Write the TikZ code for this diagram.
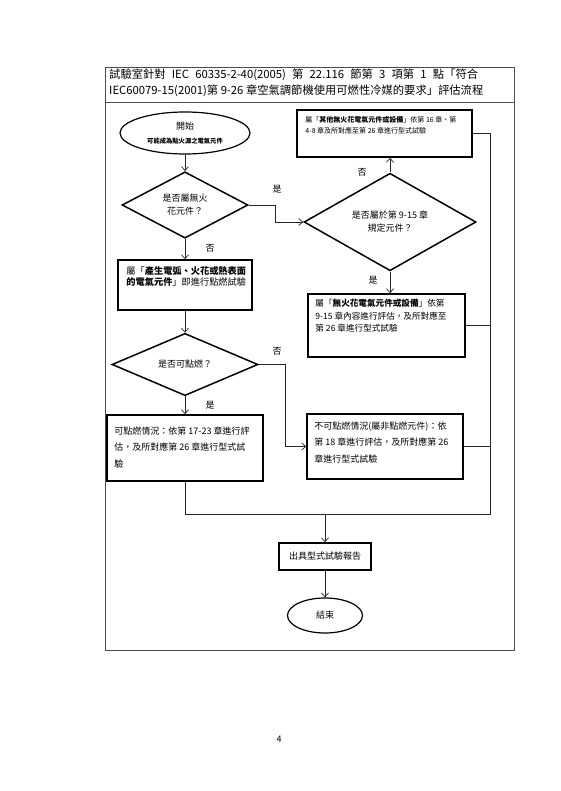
\documentclass[tikz,border=0pt]{standalone}
\usepackage{fontspec}
\setmainfont{Noto Sans CJK TC}
\usetikzlibrary{arrows.meta,shapes.geometric}

\begin{document}
\begin{tikzpicture}[x=1pt, y=-1pt,
  kuang/.style={draw=black, line width=1.5pt, inner sep=0pt},
  lingxing/.style={diamond, draw=black, line width=1.5pt, inner sep=0pt, align=center, font=\fontsize{9}{13}\selectfont},
  tuoyuan/.style={ellipse, draw=black, line width=1.2pt, inner sep=0pt, align=center},
  wenzi/.style={anchor=north west, inner sep=0pt, align=left},
  biaoqian/.style={inner sep=0pt, font=\fontsize{9}{11}\selectfont},
  xian/.style={draw=black!85, line width=0.7pt},
  jiantou/.style={xian, -{Straight Barb[length=4pt, width=7pt]}}]
  \useasboundingbox (0,0) rectangle (560,791);
  % frame and title
  \draw[black!70, line width=0.8pt] (105,67) rectangle (514,650);
  \draw[black!70, line width=0.8pt] (105,102) -- (514,102);
  \node[wenzi, font=\fontsize{11.3}{16}\selectfont] (biaoti) at (109,69)
    {{\spaceskip=6.2pt 試驗室針對 IEC 60335-2-40(2005) 第 22.116 節第 3 項第 1 點「符合}\\IEC60079-15(2001)第 9-26 章空氣調節機使用可燃性冷媒的要求」評估流程};
  % nodes
  \node[tuoyuan, minimum width=130, minimum height=42] (kaishi) at (185,133)
    {{\fontsize{9}{11}\selectfont 開始}\\[2pt]{\fontsize{6.3}{8}\selectfont\bfseries 可能成為點火源之電氣元件}};
  \node[lingxing, minimum width=126, minimum height=66] (pd1) at (185,205) {是否屬無火\\花元件？};
  \node[lingxing, minimum width=172, minimum height=86] (pd2) at (390,222) {是否屬於第 9-15 章\\規定元件？};
  \node[kuang, minimum width=175, minimum height=47] (qita) at (384.5,133.5) {};
  \node[wenzi, font=\fontsize{7}{11}\selectfont] at ([shift={(9,7)}]qita.north west)
    {屬「\textbf{其他無火花電氣元件或設備}」依第 16 章、第\\4-8 章及所對應至第 26 章進行型式試驗};
  \node[kuang, minimum width=157, minimum height=63] (wuhuo) at (386.5,325.5) {};
  \node[wenzi, font=\fontsize{8.6}{12.5}\selectfont] at ([shift={(8,6)}]wuhuo.north west)
    {屬「\textbf{無火花電氣元件或設備}」依第\\9-15 章內容進行評估，及所對應至\\第 26 章進行型式試驗};
  \node[kuang, minimum width=134, minimum height=50] (chansheng) at (185,285) {};
  \node[wenzi, font=\fontsize{9.2}{11.5}\selectfont] at ([shift={(9,7)}]chansheng.north west)
    {屬「\textbf{產生電弧、火花或熱表面}\\\textbf{的電氣元件}」即進行點燃試驗};
  \node[lingxing, minimum width=146, minimum height=55] (pd3) at (185,364.5) {是否可點燃？};
  \node[kuang, minimum width=156, minimum height=66] (kedian) at (185,448) {};
  \node[wenzi, font=\fontsize{9}{16.5}\selectfont] at ([shift={(8,12)}]kedian.north west)
    {可點燃情況：依第 17-23 章進行評\\估，及所對應第 26 章進行型式試\\驗};
  \node[kuang, minimum width=156, minimum height=65] (budian) at (385,446.5) {};
  \node[wenzi, font=\fontsize{9}{16.5}\selectfont] at ([shift={(8,8)}]budian.north west)
    {不可點燃情況(屬非點燃元件)：依\\第 18 章進行評估，及所對應第 26\\章進行型式試驗};
  \node[kuang, minimum width=92, minimum height=27, font=\fontsize{9}{11}\selectfont] (baogao) at (325,556.5) {出具型式試驗報告};
  \node[tuoyuan, minimum width=75, minimum height=35, font=\fontsize{9}{11}\selectfont] (jieshu) at (325,615.5) {結束};
  \node[font=\fontsize{9}{11}\selectfont] (yema) at (279,739) {4};
  % junction points
  \coordinate (youxia) at (490,514);
  \coordinate (zuoxia) at (185,514);
  % connectors
  \draw[jiantou] (kaishi) -- (pd1);
  \draw[jiantou] (pd1.east) -- ++(27,0) |- (pd2.west);
  \draw[jiantou] (pd2.north) -- (pd2.north |- qita.south);
  \draw[jiantou] (pd2.south) -- (pd2.south |- wuhuo.north);
  \draw[jiantou] (pd1) -- (chansheng);
  \draw[jiantou] (chansheng) -- (pd3);
  \draw[jiantou] (pd3.east) -- ++(27,0) |- (budian.west);
  \draw[jiantou] (pd3) -- (kedian);
  \draw[xian] (qita.east) -- (qita.east -| youxia) -- (youxia) -- (zuoxia) -- (kedian.south);
  \draw[xian] (wuhuo.east) -- (wuhuo.east -| youxia);
  \draw[xian] (budian.east) -- (budian.east -| youxia);
  \draw[jiantou] (baogao.north |- youxia) -- (baogao.north);
  \draw[jiantou] (baogao) -- (jieshu);
  % labels
  \node[biaoqian] at (277,189) {是};
  \node[biaoqian] at (362,172) {否};
  \node[biaoqian] at (373,280) {是};
  \node[biaoqian] at (210,248) {否};
  \node[biaoqian] at (277,351) {否};
  \node[biaoqian] at (210,405) {是};
\end{tikzpicture}
\end{document}
